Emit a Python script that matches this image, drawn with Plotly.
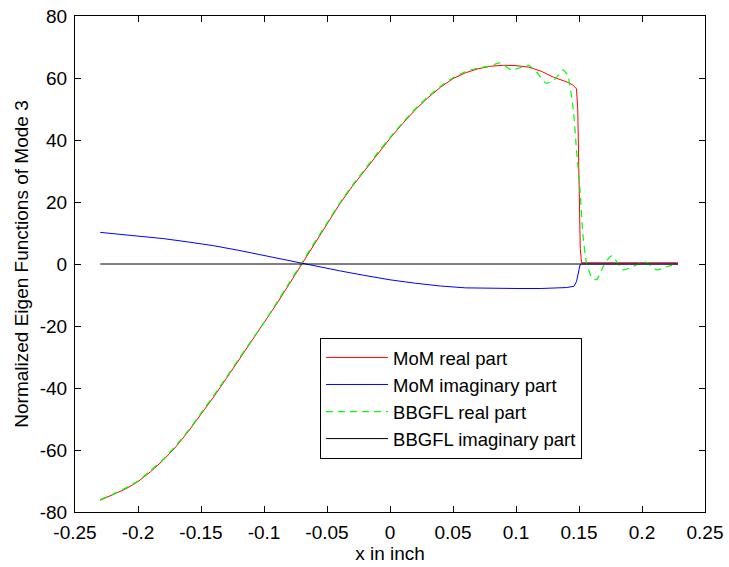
import plotly.graph_objects as go

# MoM solution, real part
mom_re_x = [-0.23, -0.22, -0.21, -0.20, -0.19, -0.18, -0.17, -0.16, -0.15, -0.14,
            -0.13, -0.12, -0.11, -0.10, -0.09, -0.08, -0.07, -0.06, -0.05, -0.04,
            -0.03, -0.02, -0.01, 0.00, 0.01, 0.02, 0.03, 0.04, 0.05, 0.06,
            0.07, 0.08, 0.09, 0.10, 0.11, 0.12, 0.13, 0.14, 0.145, 0.148,
            0.149, 0.150, 0.1505, 0.151, 0.152, 0.16, 0.18, 0.20, 0.22, 0.2286]
mom_re_y = [-76.2, -74.5, -72.6, -70.2, -67.0, -63.3, -59.0, -54.0, -48.5, -42.9,
            -37.0, -31.0, -25.0, -19.3, -12.9, -6.5, 0.0, 6.5, 12.8, 19.3,
            25.0, 30.2, 35.5, 40.5, 45.3, 49.7, 53.6, 57.0, 59.8, 61.7,
            63.0, 63.8, 64.1, 64.0, 63.5, 62.2, 60.2, 58.8, 57.8, 56.5,
            50.0, 30.0, 15.0, 5.0, 0.4, 0.4, 0.4, 0.4, 0.4, 0.4]

# MoM solution, imaginary part
mom_im_x = [-0.23, -0.20, -0.18, -0.16, -0.14, -0.12, -0.10, -0.08, -0.07, -0.06,
            -0.04, -0.02, 0.00, 0.02, 0.04, 0.06, 0.08, 0.10, 0.12, 0.14,
            0.146, 0.148, 0.1508, 0.152, 0.19, 0.2286]
mom_im_y = [10.2, 9.0, 8.2, 7.1, 5.9, 4.4, 2.7, 1.0, 0.2, -0.6,
            -2.2, -3.7, -5.1, -6.2, -7.1, -7.7, -7.9, -7.9, -7.9, -7.6,
            -7.2, -5.7, -0.3, 0.0, 0.0, 0.0]

# BBGFL solution, real part
bbgfl_re_x = [-0.23, -0.22, -0.21, -0.20, -0.19, -0.18, -0.17, -0.16, -0.15, -0.14,
              -0.13, -0.12, -0.11, -0.10, -0.09, -0.08, -0.07, -0.06, -0.05, -0.04,
              -0.03, -0.02, -0.01, 0.00, 0.01, 0.02, 0.03, 0.04, 0.05, 0.06,
              0.07, 0.08, 0.087, 0.0966, 0.103, 0.11, 0.117, 0.124, 0.131, 0.137,
              0.141, 0.1455, 0.148, 0.1508, 0.153, 0.156, 0.1605, 0.164, 0.1706, 0.176,
              0.185, 0.193, 0.2024, 0.2117, 0.2196, 0.2286]
bbgfl_re_y = [-76.0, -74.3, -72.3, -70.0, -66.6, -63.0, -58.6, -53.7, -48.1, -42.5,
              -36.6, -30.6, -24.7, -18.9, -12.5, -6.1, 0.4, 6.9, 13.2, 19.6,
              25.3, 30.5, 35.8, 40.8, 45.6, 50.0, 53.9, 57.3, 60.1, 62.0,
              63.3, 63.9, 64.9, 62.6, 63.3, 64.1, 61.6, 58.3, 59.6, 62.6,
              60.8, 49.7, 36.8, 23.9, 10.0, 0.3, -4.6, -5.0, 0.3, 2.6,
              -1.9, -0.8, 0.7, -1.9, -0.9, 0.2]

# BBGFL solution, imaginary part
bbgfl_im_x = [-0.23, 0.2286]
bbgfl_im_y = [0.0, 0.0]

x_ticks = [-0.25, -0.2, -0.15, -0.1, -0.05, 0, 0.05, 0.1, 0.15, 0.2, 0.25]
x_tick_text = ["-0.25", "-0.2", "-0.15", "-0.1", "-0.05", "0", "0.05", "0.1", "0.15", "0.2", "0.25"]
y_ticks = [-80, -60, -40, -20, 0, 20, 40, 60, 80]
y_tick_text = ["-80", "-60", "-40", "-20", "0", "20", "40", "60", "80"]

FONT = "Liberation Sans, Arial, sans-serif"
FS = 19

fig = go.Figure()
fig.add_trace(go.Scatter(x=mom_re_x, y=mom_re_y, mode="lines", name="MoM real part",
                         line=dict(color="#ff0000", width=1)))
fig.add_trace(go.Scatter(x=mom_im_x, y=mom_im_y, mode="lines", name="MoM imaginary part",
                         line=dict(color="#0000ff", width=1)))
fig.add_trace(go.Scatter(x=bbgfl_re_x, y=bbgfl_re_y, mode="lines", name="BBGFL real part",
                         line=dict(color="#00ff00", width=1.2, dash="7px,5px",
                                   shape="spline", smoothing=0.6)))
fig.add_trace(go.Scatter(x=bbgfl_im_x, y=bbgfl_im_y, mode="lines", name="BBGFL imaginary part",
                         line=dict(color="#000000", width=1)))

axis_common = dict(
    showline=True, linecolor="black", linewidth=1, mirror="ticks",
    ticks="inside", ticklen=6, tickcolor="black", tickwidth=1,
    showgrid=False, zeroline=False,
    tickfont=dict(family=FONT, size=FS, color="black"),
)

fig.update_layout(
    width=729, height=567,
    margin=dict(l=75, r=24, t=16, b=55, autoexpand=False),
    paper_bgcolor="white", plot_bgcolor="white",
    font=dict(family=FONT, size=FS, color="black"),
    xaxis=dict(range=[-0.25, 0.25], tickvals=x_ticks, ticktext=x_tick_text,
               title=dict(text="x in inch", font=dict(family=FONT, size=FS), standoff=4),
               ticklabelstandoff=3, **axis_common),
    yaxis=dict(range=[-80, 80], tickvals=y_ticks, ticktext=y_tick_text,
               title=dict(text="Normalized Eigen Functions of Mode 3",
                          font=dict(family=FONT, size=FS), standoff=6),
               ticklabelstandoff=3, **axis_common),
    showlegend=True,
    legend=dict(x=0.389, y=0.351, xanchor="left", yanchor="top",
                bgcolor="white", bordercolor="black", borderwidth=1,
                font=dict(family=FONT, size=18.5, color="black"),
                itemwidth=62, tracegroupgap=0),
)

fig.write_html("out.html")
